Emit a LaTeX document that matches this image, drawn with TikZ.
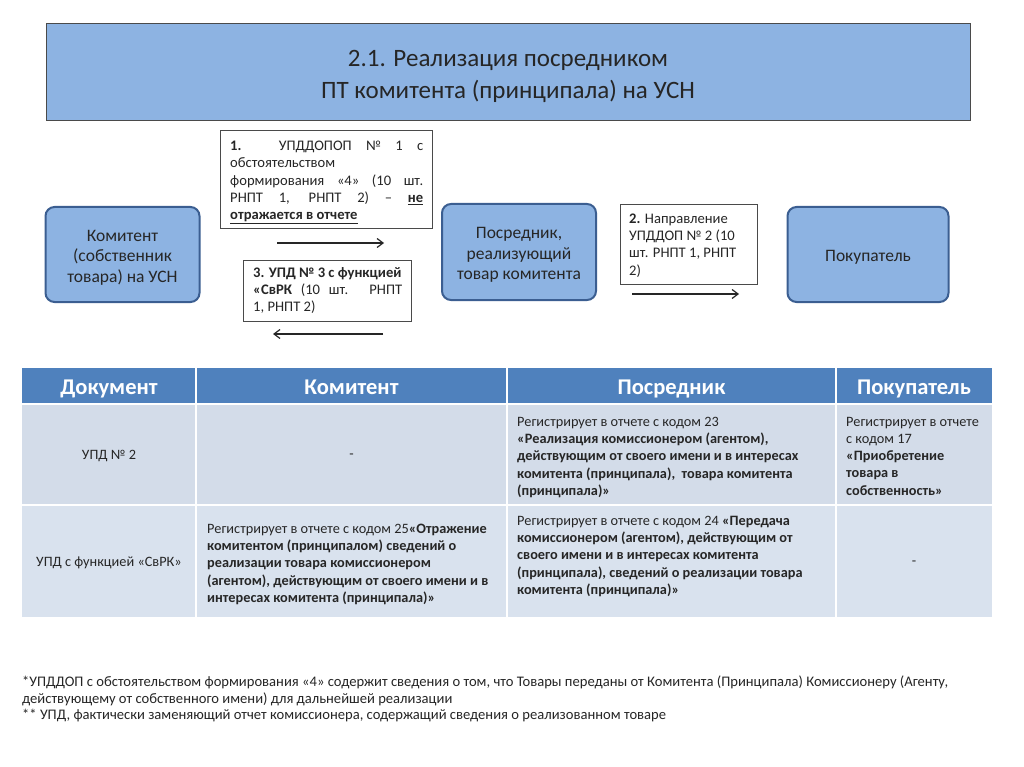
\documentclass[tikz,border=0pt]{standalone}
\usepackage{fontspec}
\setmainfont{Carlito}
\usetikzlibrary{arrows.meta}
\definecolor{titlefill}{HTML}{8DB3E2}
\definecolor{titledraw}{HTML}{4A4A4A}
\definecolor{partyfill}{HTML}{8DB3E2}
\definecolor{partydraw}{HTML}{3B5E91}
\definecolor{headfill}{HTML}{4F81BD}
\definecolor{rowa}{HTML}{D3DCE9}
\definecolor{rowb}{HTML}{D9E2EE}
\definecolor{txt}{HTML}{262626}
\tikzset{
  party/.style={draw=partydraw, line width=2pt, fill=partyfill, rounded corners=9pt, inner sep=0pt},
  partytext/.style={align=center, text=txt, font=\fontsize{17.5}{20.5}\selectfont, inner sep=0pt},
  docbox/.style={draw=titledraw, line width=1pt, fill=white, anchor=north west, inner sep=0pt},
  doctext/.style={text=txt, font=\fontsize{14.6}{17.3}\selectfont, align=left, anchor=north west, inner sep=0pt},
  flow/.style={-{Straight Barb[length=6pt,width=9pt]}, line width=1.2pt, draw=txt},
  hdr/.style={text=white, font=\bfseries\fontsize{22.5}{26}\selectfont, anchor=base},
  cell/.style={text=txt, font=\fontsize{14.3}{17.2}\selectfont, align=left, anchor=north west, inner sep=0pt},
  ctr/.style={text=txt, font=\fontsize{14.3}{17}\selectfont},
  note/.style={text=txt, font=\fontsize{14.6}{16.5}\selectfont, align=left, anchor=north west, inner sep=0pt}
}
\begin{document}
\begin{tikzpicture}[x=1pt,y=-1pt]
\useasboundingbox (0,0) rectangle (1024,767);
\fill[white] (0,0) rectangle (1024,767);
% title
\node[draw=titledraw, line width=1pt, fill=titlefill, minimum width=924pt, minimum height=97pt, inner sep=0pt] (title) at (508,72) {};
\node[align=center, text=txt, font=\fontsize{25}{32}\selectfont, inner sep=0pt] (titletext) at (508,76) {2.1. Реализация посредником\\ПТ комитента (принципала) на УСН};
% parties
\node[party, minimum width=154pt, minimum height=95pt] (kom) at (122.5,254.5) {};
\node[partytext] (komt) at (122.5,257.5) {Комитент\\(собственник\\товара) на УСН};
\node[party, minimum width=154pt, minimum height=96pt] (pos) at (519,252) {};
\node[partytext] (post) at (519,255) {Посредник,\\реализующий\\товар комитента};
\node[party, minimum width=161pt, minimum height=95pt] (pok) at (868,254.5) {};
\node[partytext] (pokt) at (868,257.5) {Покупатель};
% document boxes
\node[docbox, minimum width=212pt, minimum height=98pt] (d1) at (220,130) {};
\node[doctext] (d1t) at (230,141) {%
\makebox[193pt][s]{\textbf{1.} УПДДОПОП № 1 с}\\
обстоятельством\\
\makebox[193pt][s]{формирования «4» (10 шт.}\\
\makebox[193pt][s]{РНПТ 1, РНПТ 2) – \textbf{\underline{не}}}\\
\textbf{\underline{отражается в отчете}}};
\coordinate (a1s) at (277,243);
\coordinate (a1e) at (384,243);
\draw[flow] (a1s) -- (a1e);
\node[docbox, minimum width=168pt, minimum height=61pt] (d3) at (243,260) {};
\node[doctext] (d3t) at (253,267) {%
\textbf{3. УПД № 3 с функцией}\\
\makebox[149pt][s]{\textbf{«СвРК} (10 шт. РНПТ}\\
1, РНПТ 2)};
\coordinate (a3s) at (383,334);
\coordinate (a3e) at (273,334);
\draw[flow] (a3s) -- (a3e);
\node[docbox, minimum width=137pt, minimum height=80pt] (d2) at (620,204) {};
\node[doctext] (d2t) at (629,213.5) {%
\textbf{2.} Направление\\
УПДДОП № 2 (10\\
шт. РНПТ 1, РНПТ\\
2)};
\coordinate (a2s) at (632,294);
\coordinate (a2e) at (739,294);
\draw[flow] (a2s) -- (a2e);
% table
\fill[headfill] (22,368) rectangle (992,403);
\fill[rowa] (22,405) rectangle (992,504);
\fill[rowb] (22,506) rectangle (992,617);
\foreach \xx in {196,507,836} {\draw[white, line width=2pt] (\xx,368) -- (\xx,617);}
\node[hdr] (h1) at (109,394) {Документ};
\node[hdr] (h2) at (351.5,394) {Комитент};
\node[hdr] (h3) at (671.5,394) {Посредник};
\node[hdr] (h4) at (914,394) {Покупатель};
\node[ctr] (r1c1) at (109,456) {УПД № 2};
\node[ctr] (r1c2) at (351.5,456) {-};
\node[cell] (r1c3) at (517,417) {Регистрирует в отчете с кодом 23\\
\textbf{«Реализация комиссионером (агентом),}\\
\textbf{действующим от своего имени и в интересах}\\
\textbf{комитента (принципала),\ \ товара комитента}\\
\textbf{(принципала)»}};
\node[cell] (r1c4) at (846,417) {Регистрирует в отчете\\
с кодом 17\\
\textbf{«Приобретение}\\
\textbf{товара в}\\
\textbf{собственность»}};
\node[ctr] (r2c1) at (109,563) {УПД с функцией «СвРК»};
\node[cell] (r2c2) at (207,524) {Регистрирует в отчете с кодом 25\textbf{«Отражение}\\
\textbf{комитентом (принципалом) сведений о}\\
\textbf{реализации товара комиссионером}\\
\textbf{(агентом), действующим от своего имени и в}\\
\textbf{интересах комитента (принципала)»}};
\node[cell] (r2c3) at (517,516) {Регистрирует в отчете с кодом 24 \textbf{«Передача}\\
\textbf{комиссионером (агентом), действующим от}\\
\textbf{своего имени и в интересах комитента}\\
\textbf{(принципала), сведений о реализации товара}\\
\textbf{комитента (принципала)»}};
\node[ctr] (r2c4) at (914,563) {-};
% notes
\node[note] (n1) at (22,676) {*УПДДОП с обстоятельством формирования «4» содержит сведения о том, что Товары переданы от Комитента (Принципала) Комиссионеру (Агенту,\\
действующему от собственного имени) для дальнейшей реализации\\
** УПД, фактически заменяющий отчет комиссионера, содержащий сведения о реализованном товаре};
\end{tikzpicture}
\end{document}
